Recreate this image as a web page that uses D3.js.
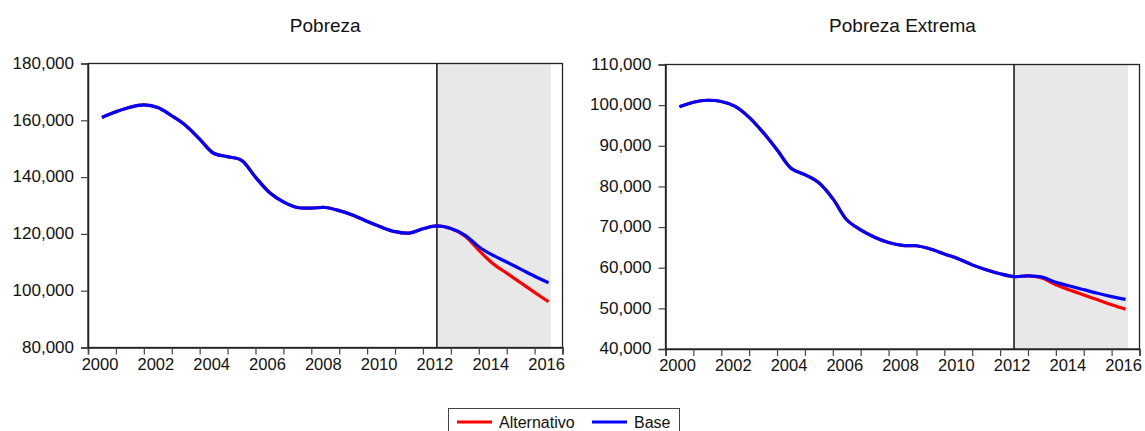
<!DOCTYPE html>
<html>
<head>
<meta charset="utf-8">
<script src="https://cdn.jsdelivr.net/npm/d3@7"></script>
<style>
  html, body { margin: 0; padding: 0; background: #fff; }
  svg { display: block; font-family: "Liberation Sans", Arial, sans-serif; }
</style>
</head>
<body>
<svg id="chart" width="1145" height="431"></svg>
<script>
// ---- Data ----
const periods = [2000.5,2001,2001.5,2002,2002.5,2003,2003.5,2004,2004.5,2005,2005.5,2006,2006.5,2007,2007.5,2008,2008.5,2009,2009.5,2010,2010.5,2011,2011.5,2012,2012.5,2013,2013.5,2014,2014.5,2015,2015.5,2016,2016.5];

const pobrezaBase = [161000,163000,164600,165400,164500,161600,158200,153400,148400,147200,145900,140000,134600,131300,129300,129100,129300,128200,126600,124400,122400,120800,120300,121800,122800,121900,119600,115500,112500,110100,107600,105100,102800];
const pobrezaAlt  = [161000,163000,164600,165400,164500,161600,158200,153400,148400,147200,145900,140000,134600,131300,129300,129100,129300,128200,126600,124400,122400,120800,120300,121800,122800,121900,119300,114300,109600,106200,102800,99400,96100];

const extremaBase = [99600,100700,101200,100900,99700,97000,93300,89000,84500,82900,80900,77000,71800,69300,67500,66200,65500,65400,64600,63400,62200,60700,59500,58500,57800,58000,57700,56400,55500,54600,53700,52900,52200];
const extremaAlt  = [99600,100700,101200,100900,99700,97000,93300,89000,84500,82900,80900,77000,71800,69300,67500,66200,65500,65400,64600,63400,62200,60700,59500,58500,57800,58000,57500,55800,54500,53300,52100,50900,49800];

const yearTicks = d3.range(2000, 2018);       // one tick per year
const yearLabels = [2000,2002,2004,2006,2008,2010,2012,2014,2016];
const pobrezaTicks = [80000,100000,120000,140000,160000,180000];
const extremaTicks = [40000,50000,60000,70000,80000,90000,100000,110000];
const forecastStart = 2012.5;
const forecastEnd = 2016.58;

const seriesNames = ["Alternativo", "Base"];
const seriesColors = ["#ff0000", "#0000ff"];

// ---- Drawing ----
const svg = d3.select("#chart");
const fmt = d3.format(",");

function panel(opt) {
  const x = d3.scaleLinear().domain([2000, 2017]).range([opt.x0, opt.x1]);
  const y = d3.scaleLinear().domain(opt.yDomain).range([opt.y0, opt.y1]);
  const g = svg.append("g");

  // shaded forecast region
  g.append("rect")
    .attr("x", x(forecastStart)).attr("y", opt.y1)
    .attr("width", x(forecastEnd) - x(forecastStart))
    .attr("height", opt.y0 - opt.y1)
    .attr("fill", "#e8e8e8");

  // frame
  g.append("rect")
    .attr("x", opt.x0).attr("y", opt.y1)
    .attr("width", opt.x1 - opt.x0).attr("height", opt.y0 - opt.y1)
    .attr("fill", "none").attr("stroke", "#222").attr("stroke-width", 1.3);

  // vertical line at forecast start
  g.append("line")
    .attr("x1", x(forecastStart)).attr("x2", x(forecastStart))
    .attr("y1", opt.y1).attr("y2", opt.y0)
    .attr("stroke", "#111").attr("stroke-width", 1.5);

  // x axis
  const xa = g.append("g").attr("transform", `translate(0,${opt.y0})`)
    .call(d3.axisBottom(x).tickValues(yearTicks).tickSize(7).tickFormat(""));
  xa.select(".domain").attr("stroke", "#222").attr("stroke-width", 1.5);
  xa.selectAll(".tick line").attr("stroke", "#444").attr("stroke-width", 1.2);
  g.append("g").selectAll("text").data(yearLabels).join("text")
    .attr("x", d => x(d) + 12).attr("y", opt.y0 + 22)
    .attr("text-anchor", "middle").attr("font-size", 16.5).attr("fill", "#111")
    .text(d => d);

  // y axis
  const ya = g.append("g").attr("transform", `translate(${opt.x0},0)`)
    .call(d3.axisLeft(y).tickValues(opt.yTicks).tickSize(7).tickPadding(7).tickFormat(fmt));
  ya.select(".domain").attr("stroke", "#222").attr("stroke-width", 1.5);
  ya.selectAll(".tick line").attr("stroke", "#444").attr("stroke-width", 1.2);
  ya.selectAll(".tick text").attr("font-size", 17).attr("fill", "#111")
    .attr("font-family", "Liberation Sans, Arial, sans-serif").attr("dy", "0.28em");

  // lines
  const line = d3.line().x((d, i) => x(periods[i])).y(d => y(d)).curve(d3.curveCatmullRom.alpha(0.5));
  [opt.alt, opt.base].forEach((s, k) => {
    g.append("path").datum(s)
      .attr("d", line).attr("fill", "none")
      .attr("stroke", seriesColors[k]).attr("stroke-width", 3.2)
      .attr("stroke-linejoin", "round");
  });

  // title
  svg.append("text")
    .attr("x", (opt.x0 + opt.x1) / 2).attr("y", 32)
    .attr("text-anchor", "middle").attr("font-size", 19).attr("fill", "#111")
    .text(opt.title);
}

panel({ title: "Pobreza", x0: 88, x1: 562.5, y0: 347.5, y1: 63.5,
        yDomain: [80000, 180000], yTicks: pobrezaTicks, base: pobrezaBase, alt: pobrezaAlt });
panel({ title: "Pobreza Extrema", x0: 665.5, x1: 1139.5, y0: 349, y1: 64.5,
        yDomain: [40000, 110000], yTicks: extremaTicks, base: extremaBase, alt: extremaAlt });

// legend
const lg = svg.append("g");
lg.append("rect").attr("x", 448.5).attr("y", 408.5).attr("width", 231).attr("height", 30)
  .attr("fill", "#fff").attr("stroke", "#444").attr("stroke-width", 1);
const legendX = [457, 592];
seriesNames.forEach((n, i) => {
  lg.append("line").attr("x1", legendX[i]).attr("x2", legendX[i] + 35)
    .attr("y1", 422).attr("y2", 422).attr("stroke", seriesColors[i]).attr("stroke-width", 3);
  lg.append("text").attr("x", legendX[i] + 42).attr("y", 427.5)
    .attr("font-size", 16).attr("fill", "#111").text(n);
});
</script>
</body>
</html>
